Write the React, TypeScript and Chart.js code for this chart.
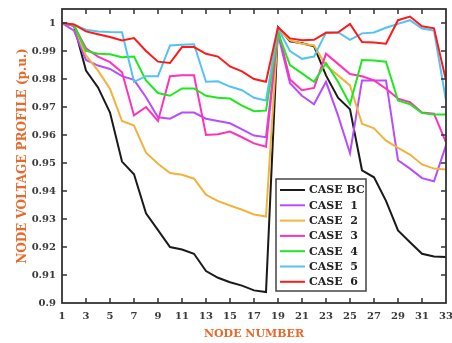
import React, { useEffect, useRef } from "react";
import { Chart, registerables } from "chart.js";

Chart.register(...registerables);

const nodes = [1, 2, 3, 4, 5, 6, 7, 8, 9, 10, 11, 12, 13, 14, 15, 16, 17, 18, 19, 20, 21, 22, 23, 24, 25, 26, 27, 28, 29, 30, 31, 32, 33];

const caseBC = [1.0, 0.999, 0.983, 0.977, 0.968, 0.9505, 0.946, 0.932, 0.926, 0.92, 0.9191, 0.9176, 0.9114, 0.909, 0.9074, 0.9062, 0.9045, 0.9039, 0.9985, 0.9935, 0.9928, 0.9917, 0.9813, 0.9733, 0.9692, 0.9474, 0.9449, 0.9365, 0.9259, 0.9217, 0.9176, 0.9166, 0.9164];
const case1 = [1.0, 0.9973, 0.9868, 0.9848, 0.9836, 0.981, 0.9797, 0.9735, 0.9663, 0.9658, 0.968, 0.968, 0.9658, 0.965, 0.9642, 0.962, 0.9598, 0.9592, 0.996, 0.9785, 0.974, 0.971, 0.979, 0.967, 0.9535, 0.9795, 0.9795, 0.9795, 0.951, 0.948, 0.9446, 0.9435, 0.9563];
const case2 = [1.0, 0.9992, 0.9884, 0.983, 0.9765, 0.965, 0.9634, 0.9537, 0.9497, 0.9464, 0.9458, 0.9444, 0.9387, 0.9364, 0.9348, 0.9333, 0.9316, 0.9309, 0.9978, 0.9938, 0.9926, 0.992, 0.9848, 0.9813, 0.9777, 0.964, 0.9624, 0.958, 0.9554, 0.953, 0.9495, 0.948, 0.9477];
const case3 = [1.0, 0.999, 0.991, 0.988, 0.986, 0.9824, 0.967, 0.97, 0.965, 0.981, 0.9813, 0.9813, 0.96, 0.9603, 0.9612, 0.9592, 0.957, 0.9558, 0.9975, 0.9798, 0.976, 0.9768, 0.989, 0.9854, 0.9818, 0.981, 0.9795, 0.9765, 0.973, 0.9717, 0.968, 0.9676, 0.9574];
const case4 = [1.0, 0.9993, 0.99, 0.989, 0.9888, 0.9878, 0.988, 0.9795, 0.975, 0.974, 0.9766, 0.9766, 0.974, 0.9733, 0.973, 0.9705, 0.9685, 0.9687, 0.9965, 0.985, 0.982, 0.979, 0.9857, 0.979, 0.971, 0.9868, 0.9866, 0.9862, 0.9723, 0.971, 0.9678, 0.9673, 0.9673];
const case5 = [1.0, 0.9994, 0.9976, 0.997, 0.9968, 0.9967, 0.979, 0.981, 0.981, 0.992, 0.9922, 0.9924, 0.979, 0.9792, 0.9773, 0.976, 0.9733, 0.9723, 0.998, 0.99, 0.9872, 0.988, 0.9966, 0.9967, 0.994, 0.9963, 0.9966, 0.9983, 0.9997, 1.001, 0.998, 0.9973, 0.9723];
const case6 = [1.0, 0.9995, 0.997, 0.996, 0.995, 0.9938, 0.9946, 0.99, 0.9862, 0.9857, 0.9914, 0.9914, 0.989, 0.988, 0.9845, 0.9827, 0.98, 0.979, 0.9985, 0.9945, 0.9938, 0.994, 0.9965, 0.9966, 0.9997, 0.9932, 0.993, 0.9926, 1.001, 1.0023, 0.9988, 0.9981, 0.9795];

const seriesNames = ["CASE BC", "CASE  1", "CASE  2", "CASE  3", "CASE  4", "CASE  5", "CASE  6"];
const seriesValues = [caseBC, case1, case2, case3, case4, case5, case6];
const seriesColors = ["#1a1a1a", "#b84dff", "#f2b33d", "#ff33b8", "#1fe81f", "#55c3f0", "#ff1a1a"];

const xTickValues = [3, 5, 7, 9, 11, 13, 15, 17, 19, 21, 23, 25, 27, 29, 31];
const yTickValues = [0.91, 0.92, 0.93, 0.94, 0.95, 0.96, 0.97, 0.98, 0.99, 1.0];

const FRAME = "#333333";
const SERIF = "'DejaVu Serif', serif";
const ORANGE = "#e8692a";

const framePlugin = {
  id: "frameTicks",
  afterDatasetsDraw(chart: any) {
    const { ctx, chartArea, scales } = chart;
    const { left, right, top, bottom } = chartArea;
    const len = 5;
    ctx.save();
    ctx.strokeStyle = FRAME;
    ctx.lineWidth = 1.5;
    ctx.beginPath();
    for (const v of xTickValues) {
      const x = scales.x.getPixelForValue(v);
      ctx.moveTo(x, bottom);
      ctx.lineTo(x, bottom - len);
      ctx.moveTo(x, top);
      ctx.lineTo(x, top + len);
    }
    for (const v of yTickValues) {
      const y = scales.y.getPixelForValue(v);
      ctx.moveTo(left, y);
      ctx.lineTo(left + len, y);
      ctx.moveTo(right, y);
      ctx.lineTo(right - len, y);
    }
    ctx.stroke();
    ctx.lineWidth = 1.8;
    ctx.strokeRect(left, top, right - left, bottom - top);
    ctx.restore();
  },
  afterDraw(chart: any) {
    const { ctx, chartArea } = chart;
    const boxW = 90;
    const boxH = 112;
    const bx = chartArea.right - 80 - boxW;
    const by = chartArea.bottom - 12 - boxH;
    ctx.save();
    ctx.fillStyle = "#ffffff";
    ctx.fillRect(bx, by, boxW, boxH);
    ctx.strokeStyle = "#444444";
    ctx.lineWidth = 1.5;
    ctx.strokeRect(bx, by, boxW, boxH);
    ctx.font = `bold 11px ${SERIF}`;
    ctx.textBaseline = "middle";
    ctx.textAlign = "left";
    chart.data.datasets.forEach((ds: any, i: number) => {
      const y = by + 11 + i * 15.3;
      ctx.strokeStyle = ds.borderColor;
      ctx.lineWidth = 2;
      ctx.beginPath();
      ctx.moveTo(bx + 4, y);
      ctx.lineTo(bx + 29, y);
      ctx.stroke();
      ctx.fillStyle = "#222222";
      ctx.fillText(ds.label, bx + 33, y + 0.5);
    });
    ctx.restore();
  },
};

export default function App() {
  const canvasRef = useRef<HTMLCanvasElement | null>(null);

  useEffect(() => {
    if (!canvasRef.current) return;
    const datasets = seriesNames.map((name, i) => ({
      label: name,
      data: nodes.map((n, j) => ({ x: n, y: seriesValues[i][j] })),
      borderColor: seriesColors[i],
      backgroundColor: seriesColors[i],
      borderWidth: 2,
      pointRadius: 0,
      tension: 0,
      order: seriesNames.length - i,
    }));
    const chart = new Chart(canvasRef.current, {
      type: "line",
      data: { datasets },
      options: {
        animation: false,
        responsive: true,
        maintainAspectRatio: false,
        layout: { padding: { top: 9, right: 6, left: 0, bottom: 0 } },
        plugins: { legend: { display: false }, tooltip: { enabled: false } },
        scales: {
          x: {
            type: "linear",
            min: 1,
            max: 33,
            grid: { display: false, drawTicks: false },
            border: { display: false },
            ticks: {
              stepSize: 2,
              padding: 7,
              color: "#3a3a3a",
              font: { family: SERIF, weight: "bold", size: 10 },
              maxRotation: 0,
              autoSkip: false,
            },
            title: {
              display: true,
              text: "NODE NUMBER",
              color: ORANGE,
              font: { family: SERIF, weight: "bold", size: 11 },
              padding: { top: 0, bottom: 2 },
            },
            afterFit: (scale: any) => {
              scale.height = 40;
              scale.paddingLeft = 0;
              scale.paddingRight = 0;
            },
          },
          y: {
            type: "linear",
            min: 0.9,
            max: 1.005,
            grid: { display: false, drawTicks: false },
            border: { display: false },
            ticks: {
              stepSize: 0.01,
              padding: 6,
              color: "#3a3a3a",
              font: { family: SERIF, weight: "bold", size: 10 },
              callback: (v: any) => {
                const n = Number(v);
                if (Math.abs(n * 100 - Math.round(n * 100)) > 1e-6) return "";
                return String(Math.round(n * 100) / 100);
              },
            },
            title: {
              display: true,
              text: "NODE VOLTAGE PROFILE (p.u.)",
              color: ORANGE,
              font: { family: SERIF, weight: "bold", size: 12 },
              padding: { top: 16, bottom: 0 },
            },
            afterFit: (scale: any) => {
              scale.width = 62;
              scale.paddingTop = 0;
              scale.paddingBottom = 0;
            },
          },
        },
      },
      plugins: [framePlugin],
    });
    return () => chart.destroy();
  }, []);

  return (
    <div style={{ position: "fixed", left: 0, top: 0, width: 452, height: 343, background: "#fff" }}>
      <canvas ref={canvasRef} />
    </div>
  );
}
